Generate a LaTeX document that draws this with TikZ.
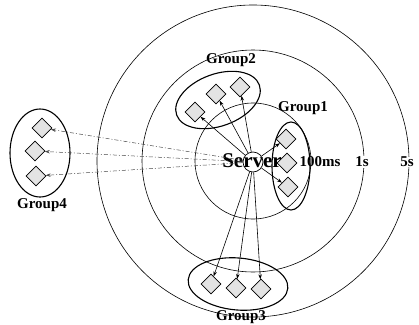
\documentclass[tikz,border=0pt]{standalone}
\usepackage{fontspec}
\setmainfont{Liberation Serif}
\usetikzlibrary{shapes.geometric,arrows.meta}
\begin{document}
\begin{tikzpicture}[x=1pt,y=-1pt,
  ring/.style={draw=black,line width=0.6pt},
  grp/.style={draw=black,line width=1.1pt},
  dia/.style={diamond,draw=black,line width=0.6pt,fill=gray!22,minimum width=20pt,minimum height=20pt,inner sep=0pt},
  lbl/.style={font=\bfseries\fontsize{15}{15}\selectfont,inner sep=0.5pt},
  arr/.style={-{Stealth[length=5pt,width=3.5pt]},line width=0.6pt},
  darr/.style={-{Stealth[length=5pt,width=3.5pt]},line width=0.5pt,draw=black!70,dash pattern=on 4pt off 2pt on 1pt off 2pt}]
\useasboundingbox (0,0) rectangle (419,324);
% rings
\draw[ring] (253,161) circle[radius=58];
\draw[ring] (253,161) circle[radius=111];
\draw[ring] (253,161) circle[radius=156];
% group ellipses
\draw[grp] (291,166) ellipse[x radius=19,y radius=44];
\draw[grp,shift={(218,100)},rotate=20] (0,0) ellipse[x radius=44,y radius=26];
\draw[grp,shift={(238,284)},rotate=-5] (0,0) ellipse[x radius=50,y radius=26];
\draw[grp] (40,153) ellipse[x radius=30,y radius=44];
% server
\node[circle,draw=black,line width=0.7pt,minimum size=20pt,inner sep=0pt] (srv) at (253,162) {};
\node[font=\bfseries\fontsize{21}{21}\selectfont,inner sep=0pt] (srvt) at (252,161) {Server};
% diamonds
\node[dia] (g1a) at (286,139) {};
\node[dia] (g1b) at (287,163) {};
\node[dia] (g1c) at (288,187) {};
\node[dia] (g2a) at (195,112) {};
\node[dia] (g2b) at (216,94) {};
\node[dia] (g2c) at (240,87) {};
\node[dia] (g3a) at (211,284) {};
\node[dia] (g3b) at (236,288) {};
\node[dia] (g3c) at (261,289) {};
\node[dia] (g4a) at (42,128) {};
\node[dia] (g4b) at (35,151) {};
\node[dia] (g4c) at (36,176) {};
% labels
\node[lbl] (l1) at (303,108) {Group1};
\node[lbl] (l2) at (231,60) {Group2};
\node[lbl] (l3) at (241,317) {Group3};
\node[lbl] (l4) at (42,205) {Group4};
\node[lbl] (t100) at (320,162) {100ms};
\node[lbl,fill=white] (t1s) at (362,162) {1s};
\node[lbl,fill=white] (t5s) at (407,162) {5s};
% arrows
\draw[arr] (srv) -- (g1a);
\draw[arr] (srv) -- (g1c);
\draw[arr] (srv) -- (g2a);
\draw[arr] (srv) -- (g2b);
\draw[arr] (srv) -- (g2c);
\draw[arr] (srv) -- (g3a);
\draw[arr] (srv) -- (g3b);
\draw[arr] (srv) -- (g3c);
\draw[darr] (srv) -- (g4a);
\draw[darr] (srv) -- (g4b);
\draw[darr] (srv) -- (g4c);
\end{tikzpicture}
\end{document}
